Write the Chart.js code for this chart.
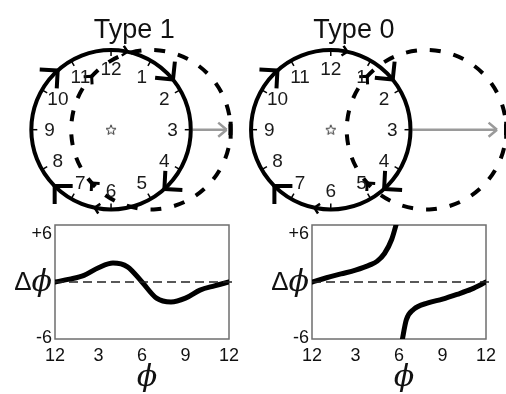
<!DOCTYPE html>
<html><head><meta charset="utf-8">
<script src="https://cdn.jsdelivr.net/npm/chart.js@4/dist/chart.umd.min.js"></script>
<style>
html,body{margin:0;padding:0;background:#fff;}
#wrap{position:relative;width:506px;height:394px;overflow:hidden;background:#fff;}
#wrap canvas{position:absolute;}
</style></head><body>
<div id="wrap">
<canvas id="clocks" width="506" height="220" style="left:0;top:0"></canvas>
<canvas id="prc1" width="253" height="179" style="left:0;top:215px"></canvas>
<canvas id="prc0" width="253" height="179" style="left:253px;top:215px"></canvas>
</div>
<script>
// ---- diagram content ----
const panelTitles = ['Type 1', 'Type 0'];
const clockLabels = ['12','1','2','3','4','5','6','7','8','9','10','11'];
const clockCentersX = [0, 2.756];      // clock centres (in clock radii)
const stimulusShift = [0.5, 1.2];      // displacement of the reset cycle (in radii)
const flowArrowHours = [1.7, 4.6, 7.5, 10.6];
const smallArrowHours = [0.4, 6.4];
const shiftedArrowHours = [10.4, 7.6];

// ---- phase response curves ----
const phaseTicks = [0, 3, 6, 9, 12];
const phaseTickLabels = ['12', '3', '6', '9', '12'];
const rangeTicks = [-6, 6];
const rangeTickLabels = ['-6', '+6'];

const type1Phase = [0, 1, 2, 3, 4, 5, 6, 7, 8, 9, 10, 11, 12];
const type1Shift = [0, 0.3, 0.7, 1.5, 2.0, 1.6, 0, -1.7, -2.1, -1.7, -0.85, -0.4, 0];

const type0PhaseA = [0, 1, 2, 3, 4, 4.5, 5, 5.5, 5.85];
const type0ShiftA = [0, 0.45, 0.85, 1.25, 1.8, 2.2, 3.0, 4.5, 6.3];
const type0PhaseB = [6.2, 6.5, 7, 8, 9, 10, 11, 12];
const type0ShiftB = [-6.3, -4.0, -2.9, -2.2, -1.8, -1.3, -0.75, 0];

const SANS = '"Liberation Sans", Arial, sans-serif';
const PHI = '\u03D5';

function pts(xs, ys){ return xs.map((x, i) => ({x, y: ys[i]})); }

function chevron(ctx, tx, ty, dx, dy, len, half){
  const bx = -dx, by = -dy;
  ctx.beginPath();
  for (const s of [-1, 1]) {
    const c = Math.cos(s*half), sn = Math.sin(s*half);
    const ax = bx*c - by*sn, ay = bx*sn + by*c;
    ctx.moveTo(tx + ax*len, ty + ay*len); ctx.lineTo(tx, ty);
  }
  ctx.stroke();
}

// star marker for the clock centres
const star = document.createElement('canvas');
star.width = 12; star.height = 12;
(function(){
  const c = star.getContext('2d');
  c.strokeStyle = '#333'; c.lineWidth = 1;
  c.beginPath();
  for (let k = 0; k < 10; k++) {
    const r = k % 2 ? 2.3 : 5.2, a = -Math.PI/2 + k*Math.PI/5;
    const px = 6 + r*Math.cos(a), py = 6.4 + r*Math.sin(a);
    k ? c.lineTo(px, py) : c.moveTo(px, py);
  }
  c.closePath(); c.stroke();
})();

const clockPlugin = {
  id: 'clockDiagram',
  beforeDatasetsDraw(chart){
    const {ctx, scales: {x, y}, chartArea} = chart;
    const R = x.getPixelForValue(1) - x.getPixelForValue(0);
    const cy = y.getPixelForValue(0);
    clockCentersX.forEach((cv, i) => {
      const cx = x.getPixelForValue(cv);
      const sx = x.getPixelForValue(cv + stimulusShift[i]);
      ctx.save();
      // title
      ctx.fillStyle = '#111';
      ctx.font = '27px ' + SANS;
      ctx.textAlign = 'center'; ctx.textBaseline = 'alphabetic';
      ctx.fillText(panelTitles[i], x.getPixelForValue(cv + 0.29), y.getPixelForValue(1.19));

      ctx.strokeStyle = '#000';
      // shifted (dashed) cycle
      ctx.lineWidth = 4;
      ctx.setLineDash([11, 13]);
      const a0 = -5.5 / R;
      ctx.beginPath(); ctx.arc(sx, cy, R, a0, a0 + 2*Math.PI); ctx.stroke();
      ctx.setLineDash([]);
      ctx.beginPath(); ctx.moveTo(sx + R, cy - 8); ctx.lineTo(sx + R, cy + 9); ctx.stroke();
      ctx.lineWidth = 3;
      shiftedArrowHours.forEach(h => {
        const t = h*Math.PI/6;
        chevron(ctx, sx + R*Math.sin(t), cy - R*Math.cos(t), Math.cos(t), Math.sin(t), 8, Math.PI/4);
      });

      // gray stimulus arrow
      ctx.strokeStyle = '#9a9a9a'; ctx.lineWidth = 2.5;
      const tip = Math.min(sx + R - 4, chartArea.right - 2);
      ctx.beginPath(); ctx.moveTo(cx + R + 2, cy); ctx.lineTo(tip, cy); ctx.stroke();
      chevron(ctx, tip, cy, 1, 0, 11, 0.7);

      // solid limit cycle
      ctx.strokeStyle = '#000'; ctx.lineWidth = 4;
      ctx.beginPath(); ctx.arc(cx, cy, R, 0, 2*Math.PI); ctx.stroke();
      ctx.lineWidth = 1.5;
      for (let h = 0; h < 12; h++) {
        const t = h*Math.PI/6, s = Math.sin(t), c = Math.cos(t);
        ctx.beginPath();
        ctx.moveTo(cx + (R-6)*s, cy - (R-6)*c); ctx.lineTo(cx + (R+1)*s, cy - (R+1)*c);
        ctx.stroke();
      }
      ctx.lineWidth = 4;
      flowArrowHours.forEach(h => {
        const t = h*Math.PI/6;
        chevron(ctx, cx + R*Math.sin(t), cy - R*Math.cos(t), Math.cos(t), Math.sin(t), 18, Math.PI/4);
      });
      ctx.lineWidth = 2.5;
      smallArrowHours.forEach(h => {
        const t = h*Math.PI/6;
        chevron(ctx, cx + R*Math.sin(t), cy - R*Math.cos(t), Math.cos(t), Math.sin(t), 7, Math.PI/4);
      });

      // hour numbers
      ctx.fillStyle = '#1a1a1a';
      ctx.font = '19px ' + SANS;
      ctx.textAlign = 'center'; ctx.textBaseline = 'middle';
      clockLabels.forEach((lab, h) => {
        const t = h*Math.PI/6, r = 0.77*R;
        ctx.fillText(lab, cx + r*Math.sin(t), cy - r*Math.cos(t) + 1);
      });
      ctx.restore();
    });
  }
};

new Chart(document.getElementById('clocks'), {
  type: 'scatter',
  data: { datasets: [{
    data: clockCentersX.map(v => ({x: v, y: 0})),
    pointStyle: star, pointRadius: 6
  }]},
  options: {
    responsive: false, animation: false,
    layout: { padding: 0 },
    plugins: { legend: {display: false}, tooltip: {enabled: false} },
    scales: {
      x: { type: 'linear', display: false, min: -1.305, max: 4.866 },
      y: { type: 'linear', display: false, min: -1.085, max: 1.598 }
    }
  },
  plugins: [clockPlugin]
});

const framePlugin = {
  id: 'prcFrame',
  beforeDatasetsDraw(chart){
    const {ctx, chartArea: a} = chart;
    ctx.save();
    ctx.strokeStyle = '#6e6e6e'; ctx.lineWidth = 1.5;
    ctx.strokeRect(a.left, a.top, a.right - a.left, a.bottom - a.top);
    ctx.restore();
  },
  afterDraw(chart){
    const {ctx, chartArea: a, scales: {y}} = chart;
    ctx.save();
    ctx.fillStyle = '#111';
    ctx.textBaseline = 'middle';
    // range labels (+6 sits just inside the top edge, as in the original)
    ctx.font = '18px ' + SANS;
    ctx.textAlign = 'right';
    rangeTicks.forEach((v, i) => {
      const py = y.getPixelForValue(v) + (v > 0 ? 9 : -1);
      ctx.fillText(rangeTickLabels[i], a.left - 3, py);
    });
    const zy = y.getPixelForValue(0);
    ctx.font = 'italic 30px "DejaVu Serif", "Liberation Serif", serif';
    const wPhi = ctx.measureText(PHI).width;
    ctx.fillText(PHI, a.left - 3, zy + 1);
    ctx.font = '26px ' + SANS;
    ctx.fillText('\u0394', a.left - 3 - wPhi, zy + 1);
    ctx.font = 'italic 30px "DejaVu Serif", "Liberation Serif", serif';
    ctx.textAlign = 'center';
    ctx.fillText(PHI, (a.left + a.right)/2 + 5, a.bottom + 39);
    ctx.restore();
  }
};

function curve(data){
  return { data, borderColor: '#000', borderWidth: 5, pointRadius: 0,
           cubicInterpolationMode: 'monotone', borderCapStyle: 'round', clip: 0 };
}

function prcChart(id, curves, padRight, yWidth){
  return new Chart(document.getElementById(id), {
    type: 'line',
    data: { datasets: [
      { data: [{x: 0, y: 0}, {x: 12.25, y: 0}], borderColor: '#222', borderWidth: 1.5,
        borderDash: [9, 5], pointRadius: 0, clip: false },
      ...curves.map(curve)
    ]},
    options: {
      responsive: false, animation: false,
      layout: { padding: { top: 10, right: padRight, left: 0, bottom: 0 } },
      plugins: { legend: {display: false}, tooltip: {enabled: false} },
      scales: {
        x: { type: 'linear', min: 0, max: 12,
             grid: { display: false, drawTicks: false }, border: { display: false },
             afterBuildTicks: s => { s.ticks = phaseTicks.map(v => ({value: v})); },
             ticks: { callback: (v, i) => phaseTickLabels[i], color: '#111', padding: 6,
                      font: { size: 18, family: SANS }, maxRotation: 0, autoSkip: false },
             afterFit: s => { s.height = 55; } },
        y: { type: 'linear', min: -6, max: 6,
             grid: { display: false, drawTicks: false }, border: { display: false },
             afterBuildTicks: s => { s.ticks = rangeTicks.map(v => ({value: v})); },
             ticks: { display: false },
             afterFit: s => { s.width = yWidth; } }
      }
    },
    plugins: [framePlugin]
  });
}

prcChart('prc1', [pts(type1Phase, type1Shift)], 24, 55);
prcChart('prc0', [pts(type0PhaseA, type0ShiftA), pts(type0PhaseB, type0ShiftB)], 20, 59);
</script>
</body></html>
